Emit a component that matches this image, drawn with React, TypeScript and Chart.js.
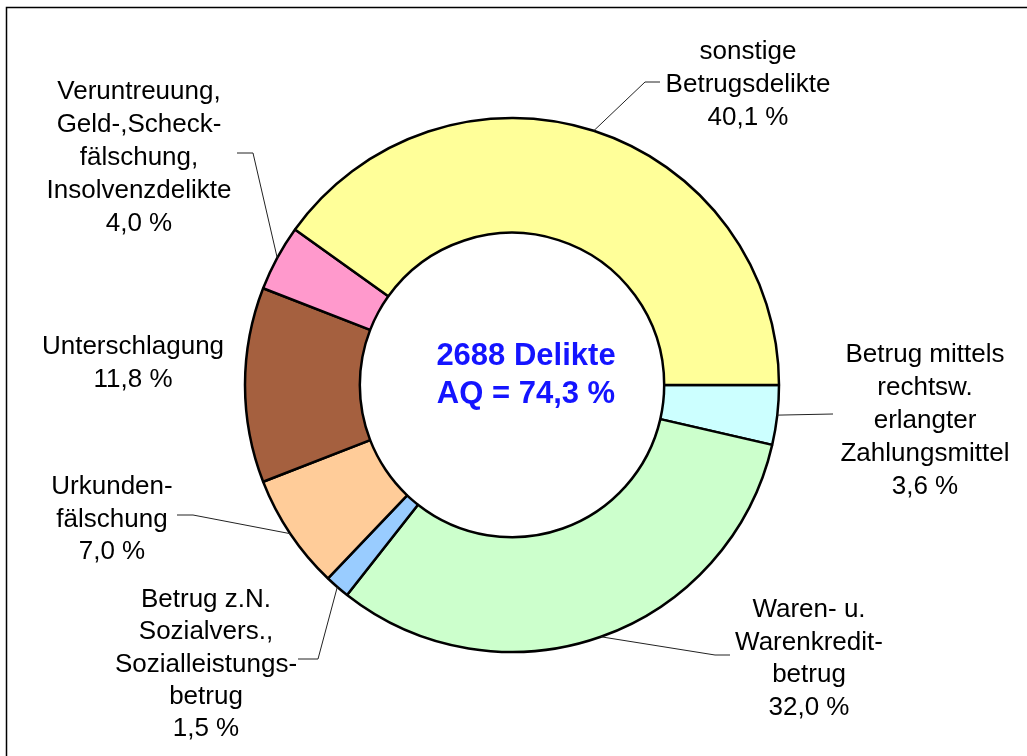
import React, { useEffect, useRef } from 'react';
import { Chart, registerables } from 'chart.js';

Chart.register(...registerables);

// ---- data (clockwise from 3 o'clock) ----
const categories: string[][] = [
  ['Betrug mittels', 'rechtsw.', 'erlangter', 'Zahlungsmittel'],
  ['Waren- u.', 'Warenkredit-', 'betrug'],
  ['Betrug z.N.', 'Sozialvers.,', 'Sozialleistungs-', 'betrug'],
  ['Urkunden-', 'fälschung'],
  ['Unterschlagung'],
  ['Veruntreuung,', 'Geld-,Scheck-', 'fälschung,', 'Insolvenzdelikte'],
  ['sonstige', 'Betrugsdelikte'],
];
const values: number[] = [3.6, 32.0, 1.5, 7.0, 11.8, 4.0, 40.1];
const centerLines: string[] = ['2688 Delikte', 'AQ = 74,3 %'];

// ---- styles ----
const colors = ['#CCFFFF', '#CCFFCC', '#99CCFF', '#FFCC99', '#A5603F', '#FF99CC', '#FFFF99'];

// ---- label layout: text centre x, first baseline y, line gap ----
const labelX = [925, 809, 206, 112, 133, 139, 748];
const labelY = [362, 617, 607, 494, 354, 99, 59];
const lineGap = [33, 32.5, 32.3, 32.5, 33, 33, 33];
// leader polyline points after the arc edge point (null = no leader)
const leaderPts: (number[][] | null)[] = [
  [[833, 414]],
  [[715, 655], [730, 655]],
  [[318, 659], [298, 659]],
  [[193, 515], [177, 515]],
  null,
  [[253, 153], [237, 153]],
  [[645, 82], [660, 82]],
];

const fmt = (v: number) => v.toFixed(1).replace('.', ',') + ' %';

const overlayPlugin = {
  id: 'overlay',
  afterDraw(chart: any) {
    const ctx = chart.ctx as CanvasRenderingContext2D;
    const meta = chart.getDatasetMeta(0);
    ctx.save();
    // frame (left & top visible)
    ctx.strokeStyle = '#000';
    ctx.lineWidth = 1.5;
    ctx.beginPath();
    ctx.moveTo(6.5, 760);
    ctx.lineTo(6.5, 7.5);
    ctx.lineTo(1030, 7.5);
    ctx.stroke();

    // leaders
    ctx.lineWidth = 1;
    ctx.strokeStyle = '#222';
    meta.data.forEach((arc: any, i: number) => {
      const pts = leaderPts[i];
      if (!pts) return;
      const { x, y, startAngle, endAngle, outerRadius } = arc.getProps(
        ['x', 'y', 'startAngle', 'endAngle', 'outerRadius'],
        true
      );
      const mid = (startAngle + endAngle) / 2;
      const sx = x + Math.cos(mid) * outerRadius;
      const sy = y + Math.sin(mid) * outerRadius;
      ctx.beginPath();
      ctx.moveTo(sx, sy);
      pts.forEach((p) => ctx.lineTo(p[0], p[1]));
      ctx.stroke();
    });

    // labels
    ctx.fillStyle = '#000';
    ctx.font = '26px "Liberation Sans", Arial, sans-serif';
    ctx.textAlign = 'center';
    ctx.textBaseline = 'alphabetic';
    categories.forEach((lines, i) => {
      const all = [...lines, fmt(values[i])];
      all.forEach((t, k) => {
        ctx.fillText(t, labelX[i], labelY[i] + k * lineGap[i]);
      });
    });

    // centre text
    const cx = meta.data[0].x;
    ctx.fillStyle = '#1414FF';
    ctx.font = 'bold 31px "Liberation Sans", Arial, sans-serif';
    ctx.fillText(centerLines[0], cx + 14, 365);
    ctx.fillText(centerLines[1], cx + 14, 403);
    ctx.restore();
  },
};

export default function App() {
  const ref = useRef<HTMLCanvasElement | null>(null);
  useEffect(() => {
    if (!ref.current) return;
    const chart = new Chart(ref.current, {
      type: 'doughnut',
      data: {
        labels: categories.map((c) => c.join(' ')),
        datasets: [
          {
            data: values,
            backgroundColor: colors,
            borderColor: '#000',
            borderWidth: 2.5,
          },
        ],
      },
      options: {
        responsive: false,
        animation: false,
        events: [],
        rotation: 90,
        radius: 267,
        cutout: '57%',
        layout: { padding: { left: 0, right: 3, top: 14, bottom: 0 } },
        plugins: {
          legend: { display: false },
          tooltip: { enabled: false },
        },
      },
      plugins: [overlayPlugin],
    });
    return () => chart.destroy();
  }, []);
  return (
    <div style={{ position: 'absolute', left: 0, top: 0, width: 1027, height: 756, background: '#fff' }}>
      <canvas ref={ref} width={1027} height={756} style={{ display: 'block' }} />
    </div>
  );
}
